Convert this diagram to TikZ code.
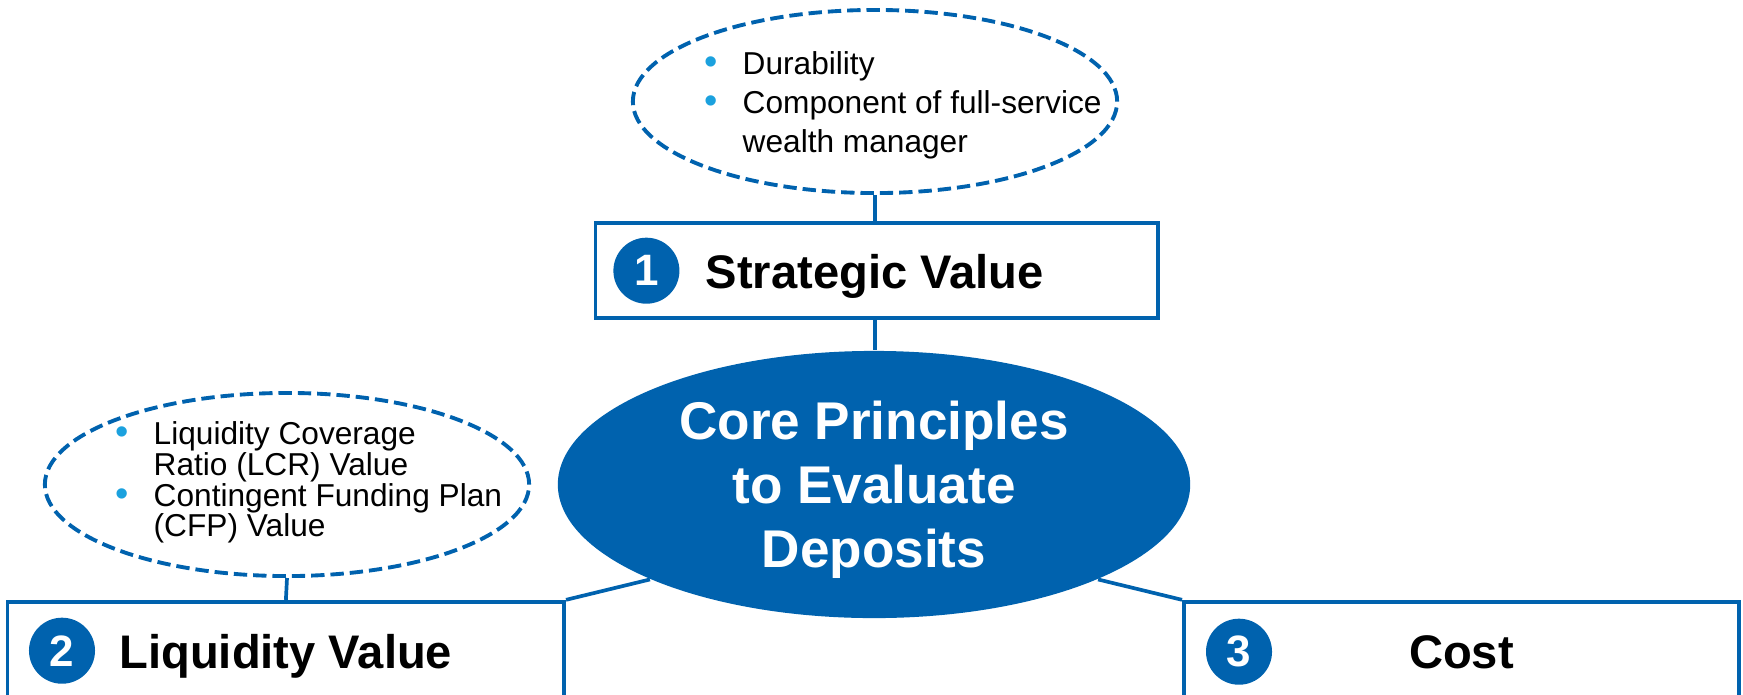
\documentclass[tikz,border=0pt]{standalone}
\usepackage{fontspec}
\setmainfont{Liberation Sans}
\usetikzlibrary{shapes.geometric}

\definecolor{coreblue}{RGB}{0,98,174}
\definecolor{dotblue}{RGB}{27,161,222}
\newcommand{\bul}{\llap{\textcolor{dotblue}{\scalebox{1.2}{\textbullet}}\hspace{0.25cm}}}

\begin{document}
\begin{tikzpicture}[x=0.01cm,y=-0.01cm,
    note/.style={ellipse,draw=coreblue,line width=1.1pt,dash pattern=on 3.8pt off 1.7pt,
        minimum width=4.84cm,minimum height=1.83cm,inner sep=0pt},
    notetext/.style={anchor=base west,align=left,inner sep=0pt},
    valbox/.style={draw=coreblue,line width=1.05pt,minimum width=5.6cm,minimum height=1.5cm,inner sep=0pt},
    numdot/.style={circle,fill=coreblue,text=white,minimum size=0.66cm,inner sep=0pt,
        font=\bfseries\fontsize{12.5}{14}\selectfont},
    valtitle/.style={inner sep=0pt,font=\bfseries\fontsize{13.4}{16}\selectfont},
    link/.style={draw=coreblue,line width=1.05pt}]

    \clip (0,0) rectangle (1743,694);

    % Strategic value note (base = last line)
    \node[note] (stratnote) at (875,101.5) {};
    \node[notetext,font=\fontsize{9}{11.1}\selectfont] (strattext) at (742,152.7)
        {\bul Durability\\ \bul Component of full-service\\ wealth manager};

    % Strategic value box
    \node[valbox,minimum width=5.62cm,minimum height=0.953cm] (strat) at (876.6,270.4) {};
    \node[numdot] (num1) at (646.4,270.7) {1};
    \node[valtitle,anchor=base west] (strattitle) at (705,288) {Strategic Value};

    % Core principles
    \node[ellipse,fill=coreblue,text=white,minimum width=6.32cm,minimum height=2.67cm,
        inner sep=0pt,align=center,text depth=0pt,
        font=\bfseries\fontsize{15.1}{18.2}\selectfont] (core) at (874,484.5)
        {Core Principles\\to Evaluate\\Deposits};

    % Liquidity value note (base = last line)
    \node[note] (liqnote) at (287,484.5) {};
    \node[notetext,font=\fontsize{9}{8.7}\selectfont] (liqtext) at (153,536.7)
        {\bul Liquidity Coverage\\ Ratio (LCR) Value\\ \bul Contingent Funding Plan\\ (CFP) Value};

    % Liquidity value box
    \node[valbox,minimum width=5.563cm] (liq) at (285.9,676.7) {};
    \node[numdot] (num2) at (62,650.7) {2};
    \node[valtitle,anchor=base west] (liqtitle) at (118.8,668) {Liquidity Value};

    % Cost box
    \node[valbox,minimum width=5.55cm] (cost) at (1461.5,676.7) {};
    \node[numdot] (num3) at (1239,651.7) {3};
    \node[valtitle,anchor=base] (costtitle) at (1461.5,668) {Cost};

    % connectors
    \draw[link] (stratnote.south) -- (stratnote.south |- strat.north);
    \draw[link] (strat.south -| stratnote.south) -- (stratnote.south |- core.north);
    \draw[link] (liqnote.south) -- (liq.north);
    \draw[link] (core.south west) -- (liq.north east);
    \draw[link] (core.south east) -- (cost.north west);
\end{tikzpicture}
\end{document}
